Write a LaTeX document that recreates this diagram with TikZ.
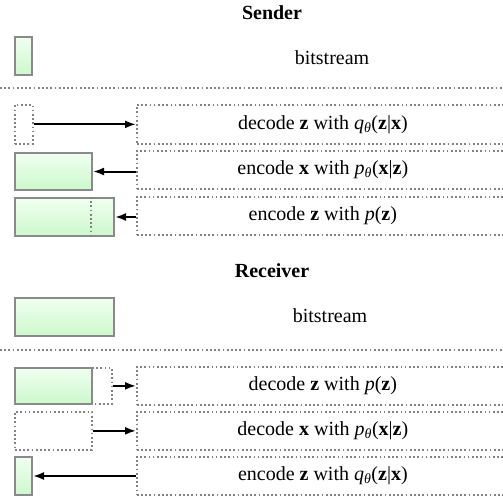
\documentclass[tikz,border=0pt]{standalone}
\usepackage{fontspec}
\setmainfont{Liberation Serif}
\usetikzlibrary{arrows.meta}

\definecolor{bittop}{RGB}{240,255,240}
\definecolor{bitbot}{RGB}{204,248,204}
\definecolor{bitedge}{RGB}{138,138,138}
\definecolor{dotedge}{RGB}{130,130,130}

\tikzset{
  txt/.style={font=\fontsize{20}{24}\selectfont, inner sep=0pt},
  bitbox/.style={draw=bitedge, line width=2pt, top color=bittop, bottom color=bitbot,
    anchor=north west, inner sep=0pt},
  emptybox/.style={draw=dotedge, line width=1.7pt, dash pattern=on 1.7pt off 2.5pt,
    anchor=north west, inner sep=0pt},
  opbox/.style={emptybox, minimum width=372pt, txt},
  arr/.style={-{Latex[length=11pt,width=8pt]}, line width=2pt},
  sepline/.style={draw=dotedge, line width=1.7pt, dash pattern=on 1.7pt off 2.5pt}
}

\begin{document}
\begin{tikzpicture}[x=1pt,y=-1pt]
  \useasboundingbox (0,0) rectangle (503,499);
  %
  % sender
  \node[txt, font=\fontsize{20}{24}\selectfont\bfseries] (stitle) at (272,13) {Sender};
  \node[bitbox, minimum width=17pt, minimum height=38pt] (sbit) at (14,36) {};
  \node[txt] (sbittxt) at (332,58) {bitstream};
  \draw[sepline] (0,88) -- (503,88);
  %
  \node[emptybox, minimum width=18pt, minimum height=39pt] (s1l) at (14,104) {};
  \node[opbox, minimum height=39pt] (s1r) at (136,104)
    {decode \textbf{z} with \textit{q}\textsubscript{\textit{θ}}(\textbf{z}|\textbf{x})};
  \draw[arr] (s1l.east) -- (s1l.east -| s1r.west);
  %
  \node[bitbox, minimum width=77pt, minimum height=37pt] (s2l) at (14,152) {};
  \node[opbox, minimum height=38pt] (s2r) at (136,150)
    {encode \textbf{x} with \textit{p}\textsubscript{\textit{θ}}(\textbf{x}|\textbf{z})};
  \draw[arr] (s2r.west |- s2l.east) -- (s2l.east);
  %
  \node[bitbox, minimum width=99pt, minimum height=38pt] (s3l) at (14,197) {};
  \draw[emptybox] ([xshift=77pt]s3l.north west) -- ([xshift=77pt]s3l.south west);
  \node[opbox, minimum height=38pt] (s3r) at (136,196)
    {encode \textbf{z} with \textit{p}(\textbf{z})};
  \draw[arr] (s3r.west |- s3l.east) -- (s3l.east);
  %
  % receiver
  \node[txt, font=\fontsize{20}{24}\selectfont\bfseries] (rtitle) at (272,271) {Receiver};
  \node[bitbox, minimum width=99pt, minimum height=38pt] (rbit) at (14,297) {};
  \node[txt] (rbittxt) at (330,316) {bitstream};
  \draw[sepline] (0,350) -- (503,350);
  %
  \node[emptybox, minimum width=97pt, minimum height=36pt] (r1d) at (14,367) {};
  \node[bitbox, minimum width=77pt, minimum height=36pt] (r1l) at (14,367) {};
  \node[opbox, minimum height=38pt] (r1r) at (136,366)
    {decode \textbf{z} with \textit{p}(\textbf{z})};
  \draw[arr] (r1d.east) -- (r1d.east -| r1r.west);
  %
  \node[emptybox, minimum width=77pt, minimum height=38pt] (r2l) at (14,411) {};
  \node[opbox, minimum height=38pt] (r2r) at (136,411)
    {decode \textbf{x} with \textit{p}\textsubscript{\textit{θ}}(\textbf{x}|\textbf{z})};
  \draw[arr] (r2l.east) -- (r2l.east -| r2r.west);
  %
  \node[bitbox, minimum width=17pt, minimum height=38pt] (r3l) at (14,456) {};
  \node[opbox, minimum height=38pt] (r3r) at (136,456)
    {encode \textbf{z} with \textit{q}\textsubscript{\textit{θ}}(\textbf{z}|\textbf{x})};
  \draw[arr] (r3r.west |- r3l.east) -- (r3l.east);
\end{tikzpicture}
\end{document}
